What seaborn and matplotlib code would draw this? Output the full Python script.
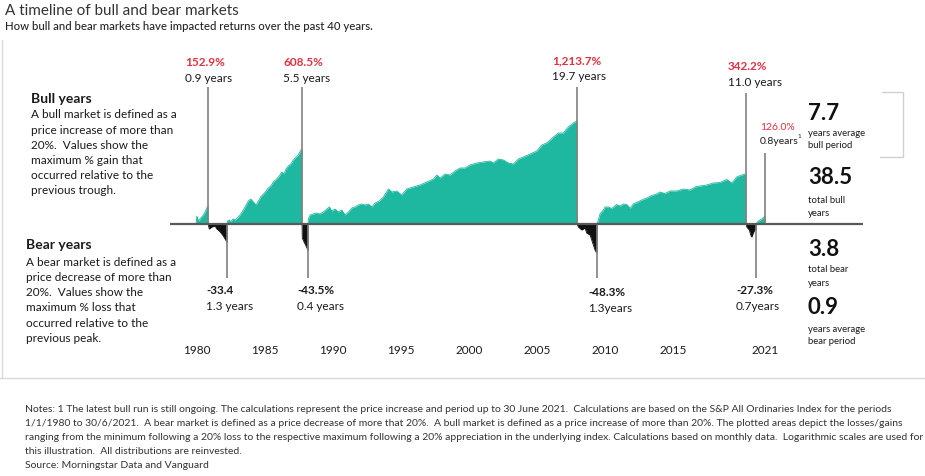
import numpy as np
import pandas as pd
import matplotlib.pyplot as plt
import seaborn as sns
from matplotlib.lines import Line2D

# values: x = year, y = run return on the chart's log scale
bull1_x = [1979.93, 1979.98, 1980.10, 1980.27, 1980.46, 1980.59, 1980.71, 1980.81]
bull1_y = [0.0, 0.08, 0.03, 0.06, 0.09, 0.12, 0.16, 0.18]

bear1_x = [1980.81, 1980.90, 1981.08, 1981.32, 1981.45, 1981.64, 1981.82, 1981.93, 1982.06, 1982.15, 1982.21]
bear1_y = [0.0, -0.05, -0.03, -0.02, -0.05, -0.07, -0.10, -0.12, -0.15, -0.17, -0.18]

bull2_x = [1982.21, 1982.23, 1982.38, 1982.48, 1982.63, 1982.79, 1982.96, 1983.16, 1983.36, 1983.53,
           1983.77, 1983.95, 1984.14, 1984.34, 1984.51, 1984.68, 1984.88, 1985.07, 1985.24, 1985.42,
           1985.61, 1985.86, 1986.05, 1986.23, 1986.40, 1986.54, 1986.71, 1986.89, 1987.08, 1987.28,
           1987.45, 1987.63, 1987.72]
bull2_y = [0.0, 0.03, 0.04, 0.02, 0.05, 0.04, 0.06, 0.09, 0.13, 0.17,
           0.23, 0.25, 0.22, 0.19, 0.23, 0.27, 0.30, 0.33, 0.36, 0.38,
           0.42, 0.45, 0.48, 0.52, 0.50, 0.55, 0.58, 0.60, 0.64, 0.67,
           0.69, 0.74, 0.74]

bear2_x = [1987.72, 1987.74, 1987.83, 1987.94, 1988.05, 1988.14, 1988.16]
bear2_y = [0.0, -0.14, -0.17, -0.20, -0.23, -0.26, -0.26]

bull3_x = [1988.16, 1988.18, 1988.31, 1988.55, 1988.80, 1989.04, 1989.29, 1989.54, 1989.73, 1989.90,
           1990.15, 1990.39, 1990.64, 1990.88, 1991.13, 1991.38, 1991.62, 1991.86, 1992.11, 1992.35,
           1992.60, 1992.85, 1993.09, 1993.40, 1993.70, 1994.07, 1994.32, 1994.68, 1995.05, 1995.42,
           1995.90, 1996.40, 1996.89, 1997.38, 1997.63, 1997.87, 1998.24, 1998.60, 1998.97, 1999.34,
           1999.71, 2000.07, 2000.57, 2001.05, 2001.54, 2001.79, 2002.15, 2002.52, 2002.89, 2003.26,
           2003.63, 2003.99, 2004.49, 2004.98, 2005.35, 2005.71, 2006.20, 2006.57, 2006.93, 2007.30,
           2007.67, 2007.92, 2007.94]
bull3_y = [0.0, 0.05, 0.09, 0.10, 0.11, 0.10, 0.12, 0.15, 0.17, 0.13,
           0.15, 0.12, 0.14, 0.09, 0.12, 0.16, 0.17, 0.19, 0.20, 0.19,
           0.20, 0.17, 0.21, 0.23, 0.27, 0.35, 0.32, 0.33, 0.29, 0.35,
           0.37, 0.39, 0.42, 0.45, 0.49, 0.46, 0.50, 0.49, 0.53, 0.56,
           0.56, 0.59, 0.61, 0.62, 0.63, 0.61, 0.65, 0.64, 0.61, 0.60,
           0.65, 0.67, 0.70, 0.73, 0.79, 0.81, 0.87, 0.91, 0.91, 0.97,
           1.01, 1.03, 1.03]

bear3_x = [2007.94, 2008.04, 2008.29, 2008.53, 2008.65, 2008.90, 2009.02, 2009.14, 2009.26, 2009.34, 2009.41]
bear3_y = [0.0, -0.03, -0.06, -0.04, -0.09, -0.11, -0.16, -0.21, -0.26, -0.28, -0.28]

bull4_x = [2009.41, 2009.51, 2009.63, 2009.88, 2010.00, 2010.24, 2010.49, 2010.86, 2011.10, 2011.35,
           2011.60, 2011.84, 2012.08, 2012.33, 2012.70, 2013.07, 2013.43, 2013.80, 2014.04, 2014.41,
           2014.78, 2015.27, 2015.76, 2016.25, 2016.62, 2016.99, 2017.48, 2017.96, 2018.46, 2018.95,
           2019.32, 2019.68, 2020.05, 2020.35, 2020.37]
bull4_y = [0.0, 0.04, 0.10, 0.14, 0.17, 0.17, 0.155, 0.195, 0.18, 0.20,
           0.195, 0.157, 0.20, 0.215, 0.24, 0.26, 0.285, 0.30, 0.32, 0.305,
           0.33, 0.33, 0.35, 0.34, 0.37, 0.38, 0.39, 0.41, 0.415, 0.445,
           0.41, 0.47, 0.49, 0.50, 0.50]

bear4_x = [2020.37, 2020.42, 2020.61, 2020.71, 2020.79, 2020.90, 2021.03, 2021.10]
bear4_y = [0.0, -0.03, -0.06, -0.11, -0.13, -0.09, -0.05, -0.05]

bull5_x = [2021.10, 2021.15, 2021.27, 2021.52, 2021.69, 2021.76]
bull5_y = [0.0, 0.01, 0.03, 0.05, 0.07, 0.08]

peak_pct = ["152.9%", "608.5%", "1,213.7%", "342.2%", "126.0%"]
peak_len = ["0.9 years", "5.5 years", "19.7 years", "11.0 years", "0.8years"]
trough_pct = ["-33.4", "-43.5%", "-48.3%", "-27.3%"]
trough_len = ["1.3 years", "0.4 years", "1.3years", "0.7years"]

tick_years = [1980, 1985, 1990, 1995, 2000, 2005, 2010, 2015]
tick_labels = ["1980", "1985", "1990", "1995", "2000", "2005", "2010", "2015", "2021"]

stat_values = ["7.7", "38.5", "3.8", "0.9"]
stat_captions = [["years average", "bull period"], ["total bull", "years"],
                 ["total bear", "years"], ["years average", "bear period"]]

bull_text = ["A bull market is defined as a", "price increase of more than", "20%.  Values show the",
             "maximum % gain that", "occurred relative to the", "previous trough."]
bear_text = ["A bear market is defined as a", "price decrease of more than", "20%.  Values show the",
             "maximum % loss that", "occurred relative to the", "previous peak."]

notes = [
    "Notes: 1 The latest bull run is still ongoing. The calculations represent the price increase and period up to 30 June 2021.  Calculations are based on the S&P All Ordinaries Index for the periods",
    "1/1/1980 to 30/6/2021.  A bear market is defined as a price decrease of more that 20%.  A bull market is defined as a price increase of more than 20%. The plotted areas depict the losses/gains",
    "ranging from the minimum following a 20% loss to the respective maximum following a 20% appreciation in the underlying index. Calculations based on monthly data.  Logarithmic scales are used for",
    "this illustration.  All distributions are reinvested.",
    "Source: Morningstar Data and Vanguard",
]

sns.set_theme(style="white")
plt.rcParams["font.family"] = ["Lato", "DejaVu Sans"]

TEAL = "#1db89f"
RED = "#e0313f"
INK = "#1a1a1a"
GREY = "#808080"

W, H = 925, 476


def fx(px):
    return px / W


def fy(py):
    return 1 - py / H


fig = plt.figure(figsize=(W / 100, H / 100), dpi=100)
ax = fig.add_axes([fx(170), fy(342), (863 - 170) / W, (342 - 60) / H])
ax.patch.set_alpha(0)

bulls = [(bull1_x, bull1_y), (bull2_x, bull2_y), (bull3_x, bull3_y), (bull4_x, bull4_y), (bull5_x, bull5_y)]
bears = [(bear1_x, bear1_y), (bear2_x, bear2_y), (bear3_x, bear3_y), (bear4_x, bear4_y)]

rows = []
for phase, runs in (("bull", bulls), ("bear", bears)):
    for i, (xs, ys) in enumerate(runs):
        rows += [{"run": f"{phase}{i}", "phase": phase, "year": x, "value": y} for x, y in zip(xs, ys)]
df = pd.DataFrame(rows)

colours = {"bull": TEAL, "bear": "#111111"}
for run, g in df.groupby("run"):
    ax.fill_between(g["year"], g["value"], 0, color=colours[g["phase"].iloc[0]], lw=0)
sns.lineplot(data=df, x="year", y="value", hue="phase", units="run", estimator=None, sort=False,
             palette=colours, lw=0.6, legend=False, ax=ax)

ax.axhline(0, color="#595959", lw=1.6, zorder=3)

# marker lines from the end of each run to its label
bull_ends = [xs[-1] for xs, _ in bulls]
bear_ends = [xs[-1] for xs, _ in bears]
ax.vlines(bull_ends, 0, [1.37, 1.37, 1.37, 1.31, 0.71], color=GREY, lw=1.2)
ax.vlines(bear_ends, -0.54, 0, color=GREY, lw=1.2)

ax.set_xlim(1978.01, 2028.97)
ax.set_ylim(-1.18, 1.64)
ax.set_xticks(tick_years + [bull5_x[-1]])
ax.set_xticklabels(tick_labels)
ax.set_yticks([])
ax.tick_params(axis="x", length=0, pad=2, labelsize=8.5, labelcolor=INK)
ax.set_xlabel("")
ax.set_ylabel("")
for s in ax.spines.values():
    s.set_visible(False)

# title
fig.text(fx(5), fy(11), "A timeline of bull and bear markets", fontsize=11, color="#333333",
         va="center")
fig.text(fx(5), fy(27), "How bull and bear markets have impacted returns over the past 40 years.",
         fontsize=8.2, color="#262626", fontweight="medium", va="center")

# side notes
fig.text(fx(31), fy(99), "Bull years", fontsize=10, fontweight="bold", color=INK, va="center")
for i, line in enumerate(bull_text):
    fig.text(fx(31), fy(115 + 15.1 * i), line, fontsize=8.5, color=INK, va="center")
fig.text(fx(26), fy(245), "Bear years", fontsize=10, fontweight="bold", color=INK, va="center")
for i, line in enumerate(bear_text):
    fig.text(fx(26), fy(262 + 15.3 * i), line, fontsize=8.5, color=INK, va="center")

# peak labels
peak_xy = [(185, 63), (283, 63), (552, 61), (728, 67)]
for (x, y), pct, yrs in zip(peak_xy, peak_pct, peak_len):
    fig.text(fx(x), fy(y), pct, fontsize=8.5, fontweight="bold", color=RED, va="center")
    fig.text(fx(x), fy(y + 15), yrs, fontsize=8.5, color=INK, va="center")
fig.text(fx(760), fy(127), peak_pct[4], fontsize=7.5, color=RED, va="center")
fig.text(fx(760), fy(142), peak_len[4], fontsize=7.5, color=INK, va="center")
fig.text(fx(797), fy(137), "1", fontsize=4.5, color=INK, va="center")

# trough labels
trough_xy = [(206, 290), (297, 290), (588, 292), (736, 291)]
for (x, y), pct, yrs in zip(trough_xy, trough_pct, trough_len):
    fig.text(fx(x), fy(y), pct, fontsize=8.5, fontweight="bold", color=INK, va="center")
    fig.text(fx(x), fy(y + 16), yrs, fontsize=8.5, color=INK, va="center")

# summary figures
stat_y = [113, 178, 249, 307]
cap_y = [133, 200, 270, 329]
for val, cap, y, cy in zip(stat_values, stat_captions, stat_y, cap_y):
    fig.text(fx(808), fy(y), val, fontsize=16, fontweight="bold", color="#111111", va="center")
    for j, line in enumerate(cap):
        fig.text(fx(808), fy(cy + 13 * j), line, fontsize=6.8, color=INK, va="center")

box = "#d0d0d0"
fig.add_artist(Line2D([fx(882), fx(903), fx(903), fx(880)], [fy(92), fy(92), fy(157), fy(157)],
                      color=box, lw=1))
fig.add_artist(Line2D([fx(1.5), fx(1.5)], [fy(40), fy(378)], color="#d9d9d9", lw=1))
fig.add_artist(Line2D([0, 1], [fy(378), fy(378)], color="#d9d9d9", lw=1))

for i, line in enumerate(notes):
    fig.text(fx(25), fy(409 + 14 * i), line, fontsize=7.45, color="#333333", va="center")

fig.savefig("out.png", dpi=100)
